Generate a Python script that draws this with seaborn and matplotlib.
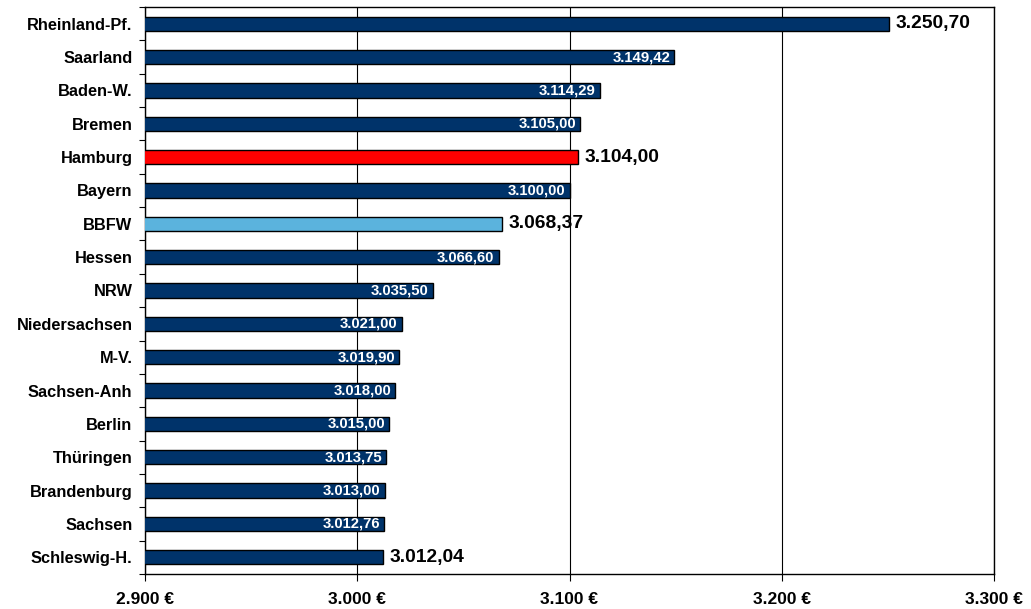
# plot.py
# Horizontal bar chart of the values per Bundesland, with Hamburg and BBFW highlighted.

import matplotlib.pyplot as plt
import matplotlib.ticker as ticker
import pandas as pd
import seaborn as sns

states = ['Rheinland-Pf.', 'Saarland', 'Baden-W.', 'Bremen', 'Hamburg', 'Bayern', 'BBFW',
          'Hessen', 'NRW', 'Niedersachsen', 'M-V.', 'Sachsen-Anh', 'Berlin', 'Thüringen',
          'Brandenburg', 'Sachsen', 'Schleswig-H.']
values = [3250.70, 3149.42, 3114.29, 3105.00, 3104.00, 3100.00, 3068.37,
          3066.60, 3035.50, 3021.00, 3019.90, 3018.00, 3015.00, 3013.75,
          3013.00, 3012.76, 3012.04]
big_labels = ['Rheinland-Pf.', 'Hamburg', 'BBFW', 'Schleswig-H.']
x_ticks = [2900, 3000, 3100, 3200, 3300]

navy = '#00336A'
colours = {s: navy for s in states}
colours['Hamburg'] = '#FF0000'
colours['BBFW'] = '#5BB3DD'

df = pd.DataFrame({'state': states, 'value': values})

sns.set_style('white')
plt.rcParams['font.family'] = ['Liberation Sans', 'DejaVu Sans']
plt.rcParams['font.weight'] = 'bold'

fig = plt.figure(figsize=(10.31, 6.09), dpi=100)
ax = fig.add_axes([145 / 1031, 1 - 574 / 609, (994 - 145) / 1031, (574 - 7) / 609])

sns.barplot(data=df, x='value', y='state', hue='state', palette=colours, legend=False,
            orient='h', width=0.43, saturation=1, edgecolor='black', linewidth=1, ax=ax, zorder=3)

ax.set_xlim(2900, 3300)
ax.set_ylim(len(states) - 0.5, -0.5)
ax.set_xticks(x_ticks)
ax.xaxis.set_major_formatter(ticker.FuncFormatter(lambda v, p: f'{int(v):,} €'.replace(',', '.')))
ax.grid(axis='x', color='black', linewidth=0.8, zorder=0)
ax.set_axisbelow(True)
ax.set_xlabel('')
ax.set_ylabel('')

ax.set_yticks([i + 0.5 for i in range(-1, len(states))], minor=True)
ax.tick_params(axis='y', which='major', length=0, pad=9, labelsize=11.8, labelcolor='black')
ax.tick_params(axis='y', which='minor', length=4, width=0.8, color='black', direction='out', left=True)
ax.tick_params(axis='x', which='major', length=5, width=0.8, color='black', direction='out',
               bottom=True, pad=8, labelsize=12.5, labelcolor='black')
for lbl in ax.get_yticklabels() + ax.get_xticklabels():
    lbl.set_fontweight('bold')

for spine in ax.spines.values():
    spine.set_color('black')
    spine.set_linewidth(1)

for i, (s, v) in enumerate(zip(states, values)):
    text = f'{v:,.2f}'.replace(',', 'X').replace('.', ',').replace('X', '.')
    if s in big_labels:
        ax.text(v + 3, i, text, ha='left', va='center', fontsize=13.9, fontweight='bold',
                color='black', zorder=4)
    else:
        ax.text(v - 2, i, text, ha='right', va='center', fontsize=10.7, fontweight='bold',
                color='white', zorder=4)

plt.savefig('out.png', dpi=100)
